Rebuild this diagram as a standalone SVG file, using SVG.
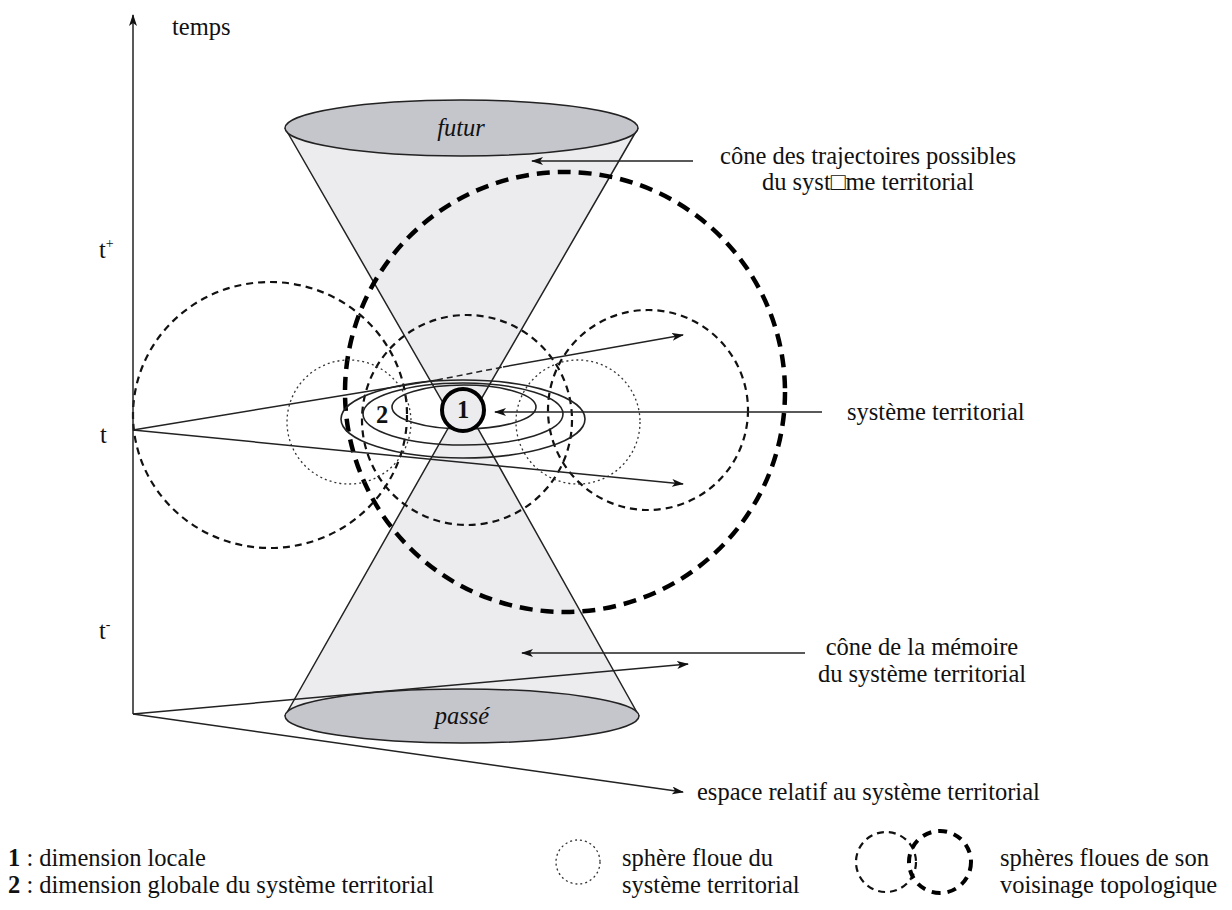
<svg xmlns="http://www.w3.org/2000/svg" width="1232" height="910" viewBox="0 0 1232 910">
<style>
text { font-family: "Liberation Serif", "Times New Roman", "DejaVu Serif", serif; font-size: 24.5px; fill: #111; }
.ln { stroke: #222; stroke-width: 1.5; fill: none; }
.dot { stroke: #333; stroke-width: 1.3; stroke-dasharray: 2 3; fill: none; }
.dash { stroke: #111; stroke-width: 2.2; stroke-dasharray: 7 5; fill: none; }
.thick { stroke: #000; stroke-width: 4.5; stroke-dasharray: 13 8; fill: none; }
.cone { fill: #ececef; stroke: #222; stroke-width: 1.5; }
.cap { fill: #c5c5cc; stroke: #222; stroke-width: 1.5; }
.ell { fill: none; stroke: #222; stroke-width: 1.6; }
.b { font-weight: bold; }
.i { font-style: italic; }
</style>
<defs>
<marker id="ah" viewBox="0 0 12 8" refX="11" refY="4" markerWidth="12" markerHeight="8" markerUnits="userSpaceOnUse" orient="auto">
<path d="M0,0 L12,4 L0,8 L3,4 z" fill="#111"/>
</marker>
</defs>

<g id="cone-futur">
<path class="cone" d="M285,128 L461,434 L638,128"/>
<ellipse class="cap" cx="461.5" cy="128" rx="176.5" ry="28"/>
<text class="i" x="461" y="136" text-anchor="middle">futur</text>
</g>
<g id="cone-passe">
<path class="cone" d="M285,716 L463,402 L639,716"/>
<ellipse class="cap" cx="462" cy="716" rx="177" ry="27"/>
<text class="i" x="462" y="724" text-anchor="middle">passé</text>
</g>

<g id="spheres">
<circle class="thick" cx="565" cy="392" r="220"/>
<ellipse class="dash" cx="270" cy="415" rx="137" ry="133"/>
<circle class="dash" cx="467" cy="420" r="105"/>
<circle class="dash" cx="648" cy="410" r="100"/>
<circle class="dot" cx="349" cy="422" r="62"/>
<circle class="dot" cx="578" cy="422" r="62"/>
</g>

<g id="systeme">
<ellipse class="ell" cx="463" cy="419" rx="122" ry="39"/>
<ellipse class="ell" cx="463" cy="414" rx="100" ry="31"/>
<ellipse class="ell" cx="464" cy="407" rx="72" ry="22"/>
<text class="b" x="382" y="423" text-anchor="middle">2</text>
<circle cx="463" cy="410" r="21" fill="#ececef" stroke="#000" stroke-width="4"/>
<text class="b" x="463" y="418" text-anchor="middle">1</text>
</g>

<g id="connectors">
<line class="ln" x1="133" y1="714" x2="133" y2="15" marker-end="url(#ah)"/>
<line class="ln" x1="133" y1="714" x2="688" y2="664" marker-end="url(#ah)"/>
<line class="ln" x1="133" y1="714" x2="683" y2="792" marker-end="url(#ah)"/>
<line class="ln" x1="133" y1="430" x2="437" y2="380"/>
<line class="ln" x1="437" y1="380" x2="503" y2="367" stroke-dasharray="6 4"/>
<line class="ln" x1="503" y1="367" x2="683" y2="335" marker-end="url(#ah)"/>
<line class="ln" x1="133" y1="430" x2="683" y2="484" marker-end="url(#ah)"/>
<line class="ln" x1="693" y1="161" x2="532" y2="161" marker-end="url(#ah)"/>
<line class="ln" x1="822" y1="412" x2="495" y2="412" marker-end="url(#ah)"/>
<line class="ln" x1="805" y1="653" x2="522" y2="653" marker-end="url(#ah)"/>
</g>

<g id="labels">
<text x="172" y="35">temps</text>
<text x="99" y="258">t<tspan font-size="14" dy="-10">+</tspan></text>
<text x="100" y="443">t</text>
<text x="99" y="639">t<tspan font-size="14" dy="-10">-</tspan></text>
<text x="868" y="164" text-anchor="middle">cône des trajectoires possibles</text>
<text x="868" y="190" text-anchor="middle">du syst□me territorial</text>
<text x="847" y="420">système territorial</text>
<text x="922" y="655" text-anchor="middle">cône de la mémoire</text>
<text x="922" y="682" text-anchor="middle">du système territorial</text>
<text x="697" y="800">espace relatif au système territorial</text>
</g>

<g id="legend">
<text x="8" y="866"><tspan class="b">1</tspan> : dimension locale</text>
<text x="8" y="893"><tspan class="b">2</tspan> : dimension globale du système territorial</text>
<circle class="dot" cx="578" cy="862" r="22"/>
<text x="622" y="866">sphère floue du</text>
<text x="622" y="893">système territorial</text>
<circle class="dash" cx="886" cy="862" r="30"/>
<circle cx="940" cy="862" r="31" fill="none" stroke="#000" stroke-width="4" stroke-dasharray="9 7"/>
<text x="1000" y="866">sphères floues de son</text>
<text x="1000" y="893">voisinage topologique</text>
</g>
</svg>
